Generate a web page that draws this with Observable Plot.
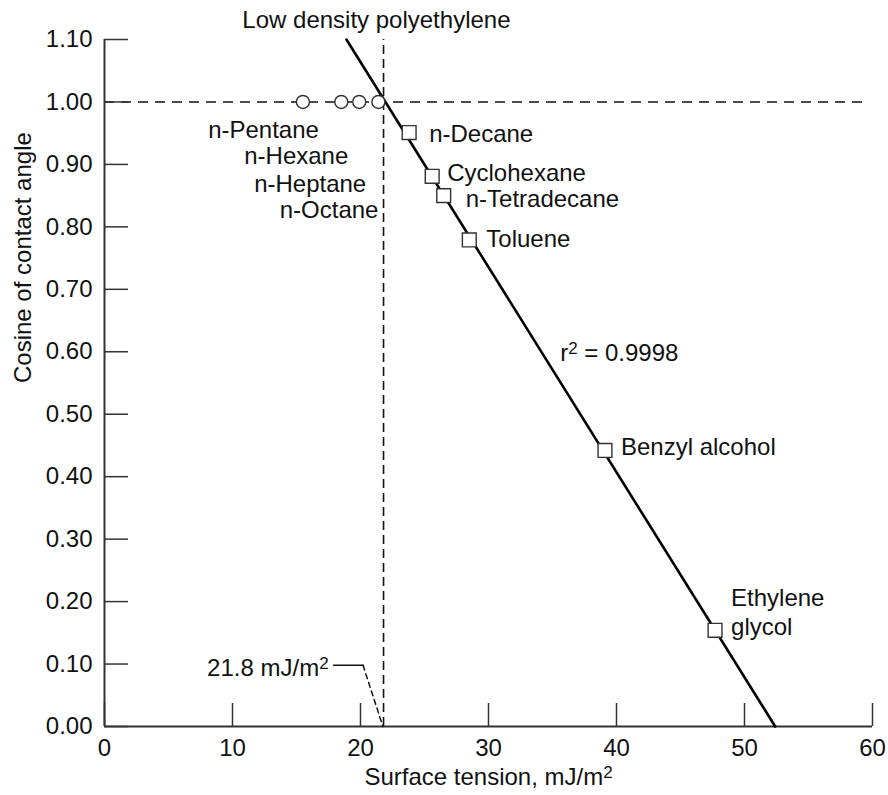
<!DOCTYPE html>
<html><head><meta charset="utf-8">
<script src="https://cdn.jsdelivr.net/npm/d3@7"></script>
<script src="https://cdn.jsdelivr.net/npm/@observablehq/plot@0.6"></script>
<style>
body{margin:0;background:#fff}
#chart svg{font-family:"Liberation Sans",Arial,Helvetica,sans-serif;background:#fff}
</style>
</head><body><div id="chart"></div>
<script>
// ---- data ----
const alkanes = ["n-Pentane", "n-Hexane", "n-Heptane", "n-Octane"];
const alkaneTension = [15.5, 18.5, 19.9, 21.4];
const alkaneCos = [1.0, 1.0, 1.0, 1.0];

const liquids = ["n-Decane", "Cyclohexane", "n-Tetradecane", "Toluene", "Benzyl alcohol", "Ethylene\nglycol"];
const liquidTension = [23.8, 25.6, 26.5, 28.5, 39.1, 47.7];
const liquidCos = [0.951, 0.881, 0.850, 0.779, 0.442, 0.154];

const fitTension = [18.9, 52.4];
const fitCos = [1.10, 0.00];

const criticalTension = 21.8;
const criticalText = "21.8 mJ/m²";
const leaderTension = [17.9, 20.2, 21.75];
const leaderCos = [0.098, 0.098, 0.0];

const rSquaredText = "r² = 0.9998";
const rSquaredTension = 35.6;
const rSquaredCos = 0.597;

const surfaceText = "Low density polyethylene";
const xTicks = [0, 10, 20, 30, 40, 50, 60];
const yTicks = [0, 0.1, 0.2, 0.3, 0.4, 0.5, 0.6, 0.7, 0.8, 0.9, 1.0, 1.1];
const xLabel = "Surface tension, mJ/m²";
const yLabel = "Cosine of contact angle";

// ---- tables ----
const alkaneData = alkanes.map((name, i) => ({name, t: alkaneTension[i], c: alkaneCos[i]}));
const liquidData = liquids.map((name, i) => ({name, t: liquidTension[i], c: liquidCos[i]}));
const fitData = fitTension.map((t, i) => ({t, c: fitCos[i]}));
const leaderData = leaderTension.map((t, i) => ({t, c: leaderCos[i]}));

// label offsets (layout only, pixels)
const alkaneOffsets = {"n-Pentane": [16, 28], "n-Hexane": [7, 54], "n-Heptane": [7, 82], "n-Octane": [0, 108]};
const liquidOffsets = {"n-Decane": [20, 0], "Cyclohexane": [15, -5], "n-Tetradecane": [22, 2], "Toluene": [17, -2], "Benzyl alcohol": [16, -5], "Ethylene\nglycol": [16, -19]};

const W = 888, H = 795, ML = 104, MR = 16, MT = 39, MB = 69;
const FW = W - ML - MR, FH = H - MT - MB;
const FS = 24;
const ink = "#111";

const marks = [
  // dashed guides
  Plot.ruleY([1.0], {x1: 0, x2: 59.5, stroke: ink, strokeWidth: 1.6, strokeDasharray: "10,7"}),
  Plot.ruleX([criticalTension], {y1: 0, y2: 1.1, stroke: ink, strokeWidth: 1.6, strokeDasharray: "9,5"}),
  // axes lines
  Plot.ruleX([0], {y1: 0, y2: 1.1, stroke: "#333", strokeWidth: 2}),
  Plot.ruleY([0], {x1: 0, x2: 60, stroke: "#333", strokeWidth: 2}),
  // inward ticks
  Plot.tickY(yTicks, {y: d => d, insetRight: FW - 24, stroke: "#333", strokeWidth: 1.5}),
  Plot.tickX(xTicks, {x: d => d, insetTop: FH - 23, stroke: "#333", strokeWidth: 1.5}),
  Plot.axisY(yTicks, {tickSize: 0, tickPadding: 12, tickFormat: d3.format(".2f"), fontSize: FS, fill: ink, label: null}),
  Plot.axisX(xTicks, {tickSize: 0, tickPadding: 12, tickFormat: d3.format("d"), fontSize: FS, fill: ink, label: null}),
  // fit line
  Plot.line(fitData, {x: "t", y: "c", stroke: "#000", strokeWidth: 2.6}),
  // leader for 21.8
  Plot.line(leaderData.slice(0, 2), {x: "t", y: "c", stroke: ink, strokeWidth: 1.5}),
  Plot.line(leaderData.slice(1), {x: "t", y: "c", stroke: ink, strokeWidth: 1.5, strokeDasharray: "5,4"}),
  // points
  Plot.dot(alkaneData, {x: "t", y: "c", r: 6.5, fill: "#fff", stroke: "#333", strokeWidth: 1.4}),
  Plot.dot(liquidData, {x: "t", y: "c", r: 7.8, symbol: "square", fill: "#fff", stroke: "#333", strokeWidth: 1.4}),
  // labels
  ...alkaneData.map(d => Plot.text([d], {x: "t", y: "c", text: "name", textAnchor: "end", dx: alkaneOffsets[d.name][0], dy: alkaneOffsets[d.name][1], fontSize: FS, fill: ink})),
  ...liquidData.map(d => Plot.text([d], {x: "t", y: "c", text: "name", textAnchor: "start", dx: liquidOffsets[d.name][0], dy: liquidOffsets[d.name][1], fontSize: FS, fill: ink, lineHeight: 1.21})),
  Plot.text([fitData[0]], {x: "t", y: "c", text: () => surfaceText, textAnchor: "middle", dx: 30, dy: -19, fontSize: FS, fill: ink}),
  Plot.text([leaderData[0]], {x: "t", y: "c", text: () => criticalText, textAnchor: "end", dx: -5, dy: 3, fontSize: FS, fill: ink}),
  Plot.text([{t: rSquaredTension, c: rSquaredCos}], {x: "t", y: "c", text: () => rSquaredText, textAnchor: "start", fontSize: FS, fill: ink}),
  Plot.text([xLabel], {frameAnchor: "bottom", dy: 58, text: d => d, fontSize: FS, fill: ink}),
  Plot.text([yLabel], {frameAnchor: "left", dx: -81, rotate: -90, text: d => d, fontSize: FS, fill: ink})
];

const chart = Plot.plot({
  width: W, height: H,
  marginLeft: ML, marginRight: MR, marginTop: MT, marginBottom: MB,
  x: {domain: [0, 60]},
  y: {domain: [0, 1.1]},
  style: {fontFamily: '"Liberation Sans", Arial, sans-serif', fontSize: FS + "px", color: ink, background: "#fff"},
  marks
});

// superscript the "²"
chart.querySelectorAll("text").forEach(t => {
  if (t.children.length === 0 && t.textContent.includes("²")) {
    const [a, b] = t.textContent.split("²");
    t.textContent = "";
    const ns = "http://www.w3.org/2000/svg";
    const s1 = document.createElementNS(ns, "tspan"); s1.textContent = a; t.appendChild(s1);
    const s2 = document.createElementNS(ns, "tspan"); s2.textContent = "2";
    s2.setAttribute("font-size", "17"); s2.setAttribute("dy", "-7"); t.appendChild(s2);
    if (b) { const s3 = document.createElementNS(ns, "tspan"); s3.textContent = b; s3.setAttribute("dy", "7"); t.appendChild(s3); }
  }
});

document.getElementById("chart").appendChild(chart);
</script>
</body></html>
